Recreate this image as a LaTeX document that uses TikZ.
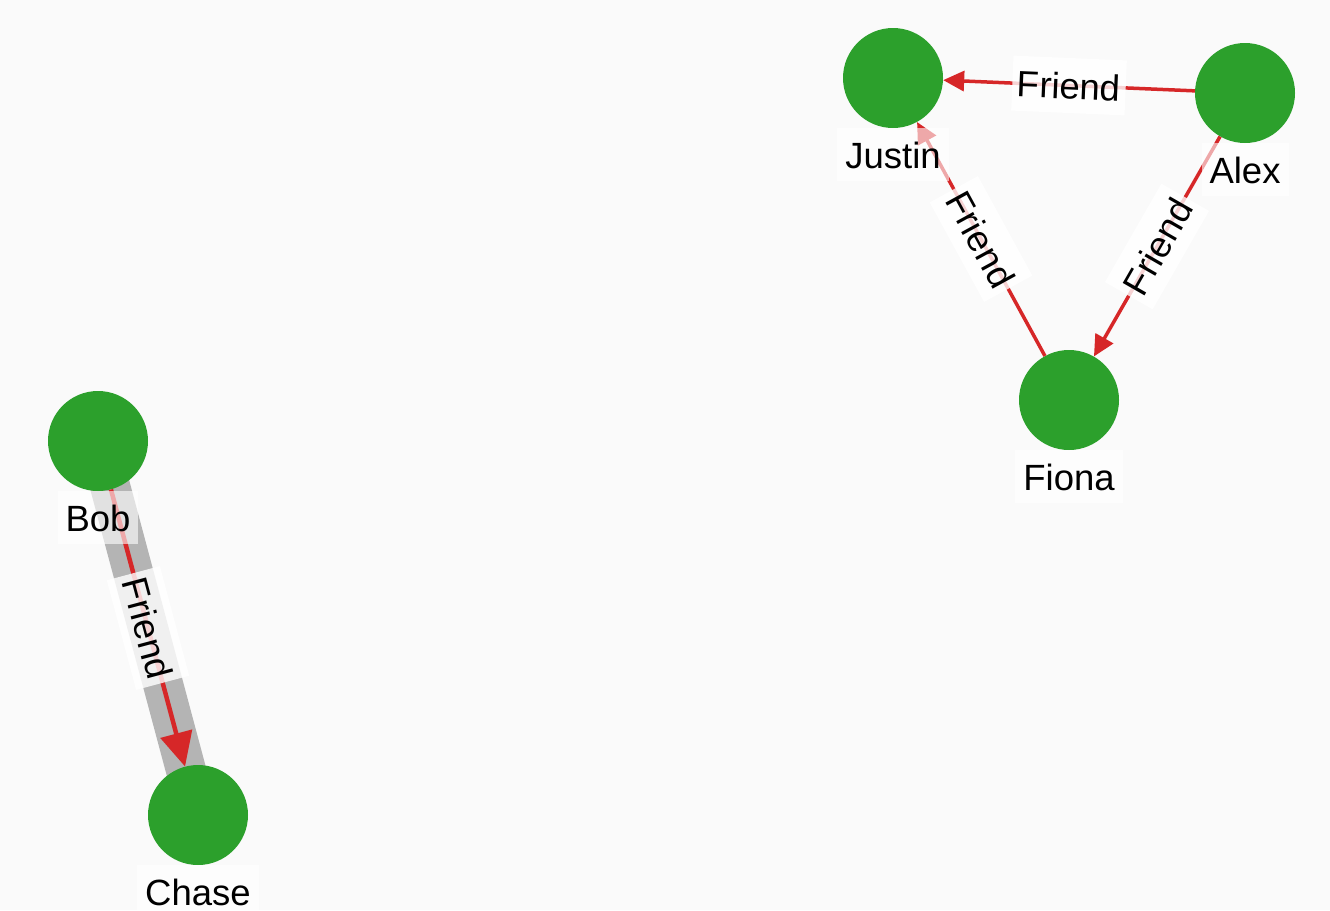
\documentclass[tikz,border=0pt]{standalone}
\usepackage{fontspec}
\setmainfont{Liberation Sans}
\usetikzlibrary{arrows.meta, positioning, backgrounds}
\definecolor{bg}{HTML}{FAFAFA}
\definecolor{nodegreen}{HTML}{2CA02C}
\definecolor{edgered}{HTML}{D62728}
\definecolor{hlgray}{HTML}{B4B4B4}

\tikzset{
	person/.style={circle, fill=nodegreen, minimum size=100pt, inner sep=0pt},
	friend/.style={draw=edgered, line width=3.5pt, -{Triangle[length=21pt, width=20pt]}},
	friendsel/.style={friend, line width=4.5pt, -{Triangle[length=34pt, width=32pt]}},
	namelabel/.style={fill=white, fill opacity=0.6, text opacity=1, inner xsep=8pt, inner ysep=13pt,
		text height=27pt, text depth=0pt, font=\fontsize{36.5}{42}\selectfont},
	edgelabel/.style={namelabel, fill opacity=0.8, inner xsep=5pt, inner ysep=14pt, sloped},
	highlight/.style={draw=hlgray, line width=40pt},
}

\begin{document}
\begin{tikzpicture}[x=1pt, y=-1pt]
	\useasboundingbox (0,0) rectangle (1330,910);
	
	\node[person] (justin) at (893,78) {};
	\node[person] (alex) at (1245,93) {};
	\node[person] (fiona) at (1069,400) {};
	\node[person] (bob) at (98,441) {};
	\node[person] (chase) at (198,815) {};
	
	\begin{scope}[on background layer]
		\fill[bg] (0,0) rectangle (1330,910);
		\draw[highlight] (bob.center) -- (chase.center);
	\end{scope}
	
	% edges
	\draw[friend] (alex) -- node[edgelabel] {Friend} (justin);
	\draw[friend] (fiona) -- node[edgelabel] {Friend} (justin);
	\draw[friend] (alex) -- node[edgelabel] {Friend} (fiona);
	\draw[friendsel] (bob) -- node[edgelabel] {Friend} (chase);
	
	% names
	\node[namelabel, below=0pt of justin] {Justin};
	\node[namelabel, below=0pt of alex] {Alex};
	\node[namelabel, below=0pt of fiona] {Fiona};
	\node[namelabel, below=0pt of bob] {Bob};
	\node[namelabel, below=0pt of chase] {Chase};
\end{tikzpicture}
\end{document}
